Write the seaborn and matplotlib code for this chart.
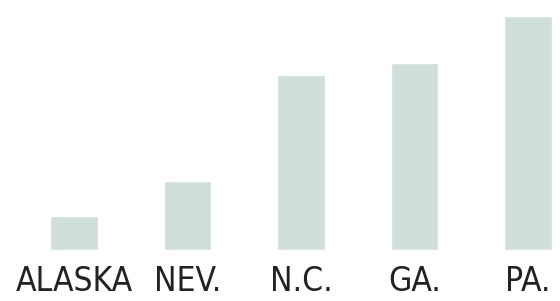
import matplotlib
matplotlib.use("Agg")
import matplotlib.pyplot as plt
import pandas as pd
import seaborn as sns

states = ["ALASKA", "NEV.", "N.C.", "GA.", "PA."]
values = [34, 69, 175, 187, 234]

df = pd.DataFrame({"state": states, "value": values})

sns.set_style("white")
plt.rcParams['font.family'] = ['DejaVu Sans']
plt.rcParams['font.stretch'] = 'condensed'

fig = plt.figure(figsize=(5.6, 3.01), dpi=100)
ax = fig.add_axes([0, 51 / 301, 1, 250 / 301])

sns.barplot(data=df, x="state", y="value", color="#d0dfdb", saturation=1,
            width=0.42, ax=ax)

# map pixel space: first bar centre at x=74, spacing ~113.5 px
ax.set_xlim(-74 / 113.5, (560 - 74) / 113.5)
ax.set_ylim(0, 250)
ax.set_xlabel("")
ax.set_ylabel("")
ax.set_yticks([])
ax.tick_params(axis="x", length=0, pad=11, labelsize=24, labelcolor="#222222")
for lab in ax.get_xticklabels():
    lab.set_fontstretch("condensed")
sns.despine(ax=ax, left=True, bottom=True)

fig.savefig("out.png", dpi=100)
